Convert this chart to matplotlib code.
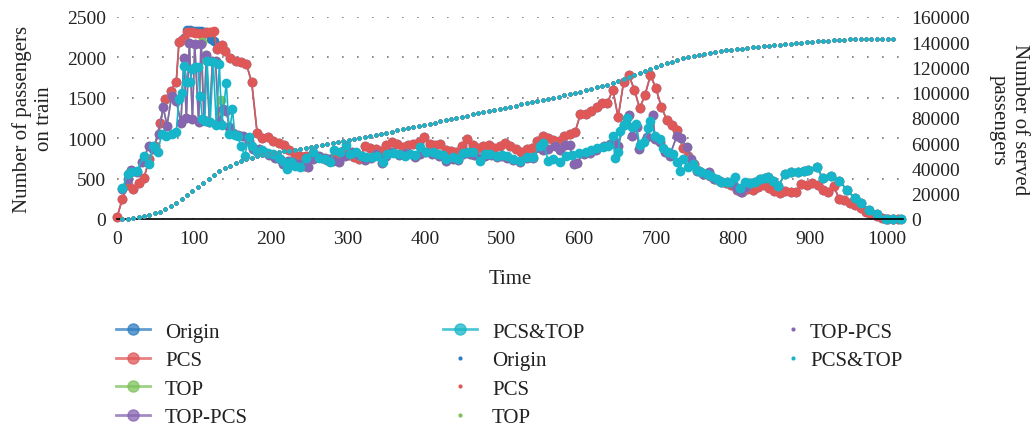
import numpy as np
import matplotlib.pyplot as plt
from matplotlib.lines import Line2D

plt.rcParams['font.family'] = ['Liberation Serif', 'DejaVu Serif']

# passengers on train, (time, count) pairs
pcs = [(0, 20), (7, 250), (14, 420), (21, 370), (28, 450), (35, 510), (42, 740), (49, 900), (56, 1190),
       (63, 1480), (70, 1590), (77, 1700), (80.5, 2190), (84, 2210), (87.5, 2230), (91, 2320), (94.5, 2315),
       (98, 2310), (101.5, 2305), (105, 2300), (108.5, 2295), (112, 2290), (115.5, 2310), (119, 2320),
       (122.5, 2320), (126, 2325), (129.5, 2110), (133, 2130), (136.5, 2150), (140, 2085), (147, 1990),
       (154, 1960), (161, 1940), (168, 1920), (175, 1690), (182, 1070), (189, 1000), (196, 1010), (203, 970),
       (210, 945), (217, 910), (224, 850), (231, 790), (238, 785), (245, 780), (252, 760), (259, 780),
       (266, 750), (273, 730), (280, 760), (287, 820), (294, 846), (301, 790), (308, 770), (315, 745),
       (322, 900), (329, 880), (336, 865), (343, 840), (350, 910), (357, 950), (364, 930), (371, 890),
       (378, 920), (385, 930), (392, 950), (399, 1010), (406, 930), (413, 910), (420, 925), (427, 860),
       (434, 840), (441, 835), (448, 900), (455, 990), (462, 920), (469, 875), (476, 905), (483, 910),
       (490, 880), (497, 900), (504, 935), (511, 905), (518, 865), (525, 825), (532, 870), (539, 875),
       (546, 960), (553, 1030), (560, 1000), (567, 975), (574, 970), (581, 1030), (588, 1050), (595, 1075),
       (602, 1300), (609, 1305), (616, 1340), (623, 1390), (630, 1436), (637, 1436), (644, 1600), (651, 1260),
       (658, 1690), (665, 1780), (672, 1600), (679, 1370), (686, 1540), (693, 1780), (700, 1620), (707, 1390),
       (714, 1230), (721, 1164), (728, 1100), (735, 880), (742, 780), (749, 680), (756, 600), (763, 560),
       (770, 528), (777, 495), (784, 462), (791, 445), (798, 425), (805, 363), (812, 340), (819, 370),
       (826, 365), (833, 400), (840, 415), (847, 380), (854, 345), (861, 325), (868, 345), (875, 340),
       (882, 330), (889, 430), (896, 421), (903, 450), (910, 420), (917, 363), (924, 338), (931, 410),
       (938, 250), (945, 230), (952, 198), (959, 173), (966, 130), (973, 85), (980, 62), (987, 41),
       (994, 10), (1001, 0), (1008, 0), (1015, 0)]

origin = [(0, 20), (7, 250), (14, 420), (21, 370), (28, 450), (35, 510), (42, 740), (49, 900), (56, 1190),
          (63, 1480), (70, 1590), (77, 1700), (80.5, 2190), (84, 2210), (87.5, 2240), (91, 2335), (94.5, 2335),
          (98, 2330), (101.5, 2330), (105, 2330), (108.5, 2325), (112, 2320), (115.5, 2320), (119, 2300),
          (122.5, 2230), (126, 2200), (129.5, 2110), (133, 2130), (136.5, 2150), (140, 2085), (147, 1990),
          (154, 1960), (161, 1940), (168, 1920), (175, 1690), (182, 1070), (189, 1000), (196, 1010), (203, 970),
          (210, 945), (217, 910), (224, 850), (231, 790), (238, 785), (245, 780), (252, 760), (259, 780),
          (266, 750), (273, 730), (280, 760), (287, 820), (294, 846), (301, 790), (308, 770), (315, 745),
          (322, 900), (329, 880), (336, 865), (343, 840), (350, 910), (357, 950), (364, 930), (371, 890),
          (378, 920), (385, 930), (392, 950), (399, 1010), (406, 930), (413, 910), (420, 925), (427, 860),
          (434, 840), (441, 835), (448, 900), (455, 990), (462, 920), (469, 875), (476, 905), (483, 910),
          (490, 880), (497, 900), (504, 935), (511, 905), (518, 865), (525, 825), (532, 870), (539, 875),
          (546, 960), (553, 1030), (560, 1000), (567, 975), (574, 970), (581, 1030), (588, 1050), (595, 1075),
          (602, 1300), (609, 1305), (616, 1340), (623, 1390), (630, 1436), (637, 1436), (644, 1600), (651, 1260),
          (658, 1690), (665, 1780), (672, 1600), (679, 1370), (686, 1540), (693, 1780), (700, 1620), (707, 1390),
          (714, 1230), (721, 1164), (728, 1100), (735, 880), (742, 780), (749, 680), (756, 600), (763, 560),
          (770, 528), (777, 495), (784, 462), (791, 445), (798, 425), (805, 363), (812, 340), (819, 370),
          (826, 365), (833, 400), (840, 415), (847, 380), (854, 345), (861, 325), (868, 345), (875, 340),
          (882, 330), (889, 430), (896, 421), (903, 450), (910, 420), (917, 363), (924, 338), (931, 410),
          (938, 250), (945, 230), (952, 198), (959, 173), (966, 130), (973, 85), (980, 62), (987, 41),
          (994, 10), (1001, 0), (1008, 0), (1015, 0)]

top_pcs = [(7, 371), (14, 500), (18, 611), (26, 578), (33, 702), (41, 900), (47, 867), (54, 1052), (60, 1383),
           (65, 1156), (71, 1527), (77, 1465), (83, 1189), (87, 1989), (90, 1246), (94, 2179), (98, 1238),
           (101, 2167), (106, 1197), (109, 2167), (113, 1230), (116, 2031), (120, 1200), (124, 1960), (128, 1960),
           (132, 1200), (138, 1362), (142, 1341), (146, 1135), (151, 1060), (157, 1040), (164, 1032), (171, 970),
           (177, 870), (184, 870), (191, 830), (198, 790), (205, 760), (212, 740), (216, 681), (222, 720),
           (229, 702), (236, 680), (243, 660), (248, 640), (255, 743), (263, 784), (270, 760), (276, 740),
           (281, 722), (289, 710), (296, 784), (305, 825), (313, 790), (322, 735), (330, 760), (337, 805),
           (344, 693), (350, 780), (357, 825), (366, 790), (376, 817), (387, 763), (393, 800), (400, 834),
           (409, 805), (418, 780), (428, 722), (436, 740), (443, 730), (450, 805), (458, 800), (464, 790),
           (471, 751), (478, 780), (486, 790), (493, 770), (500, 780), (507, 760), (514, 730), (523, 710),
           (532, 750), (541, 760), (549, 880), (553, 850), (560, 867), (569, 908), (575, 860), (582, 916),
           (588, 916), (593, 681), (597, 693), (606, 805), (614, 820), (622, 850), (632, 908), (640, 930),
           (645, 960), (651, 900), (658, 1164), (665, 1287), (669, 1032), (675, 1135), (678, 867), (688, 1011),
           (696, 1287), (699, 990), (705, 949), (712, 830), (718, 784), (727, 1023), (733, 999), (740, 887),
           (746, 743), (753, 598), (761, 557), (769, 586), (775, 495), (783, 475), (792, 454), (800, 433),
           (805, 371), (810, 330), (817, 392), (822, 446), (829, 462), (835, 495), (842, 503), (846, 516),
           (852, 475), (859, 412), (868, 557), (876, 586), (885, 578), (893, 600), (898, 611), (909, 640),
           (917, 503), (928, 536), (938, 475), (948, 363), (958, 256), (967, 198), (977, 116), (987, 62),
           (999, 0), (1008, 0), (1019, 0)]

top = [(7, 371), (14, 500), (18, 611), (26, 578), (33, 702), (41, 900), (47, 867), (54, 1052), (60, 1383),
       (65, 1156), (71, 1527), (77, 1465), (83, 1189), (87, 1989), (90, 1246), (94, 2179), (98, 1238),
       (101, 2167), (106, 1197), (110, 2185), (113, 1230), (116, 2031), (120, 1200), (124, 1960), (128, 1960),
       (132, 1200), (135, 1470), (138, 1362), (142, 1341), (146, 1135), (151, 1060), (157, 1040), (164, 1032),
       (171, 970), (177, 870), (184, 870), (191, 830), (198, 790), (205, 760), (212, 740), (216, 681),
       (222, 720), (229, 702), (236, 680), (243, 660), (248, 640), (255, 743), (263, 784), (270, 760),
       (276, 740), (281, 722), (289, 710), (296, 784), (305, 825), (313, 790), (322, 735), (330, 760),
       (337, 805), (344, 693), (350, 780), (357, 825), (366, 790), (376, 817), (387, 763), (393, 800),
       (400, 834), (409, 805), (418, 780), (428, 722), (436, 740), (443, 730), (450, 805), (458, 800),
       (464, 790), (471, 751), (478, 780), (486, 790), (493, 770), (500, 780), (507, 760), (514, 730),
       (523, 710), (532, 750), (541, 760), (549, 880), (553, 850), (560, 867), (569, 908), (575, 860),
       (582, 916), (588, 916), (593, 681), (597, 693), (606, 805), (614, 820), (622, 850), (632, 908),
       (640, 930), (645, 960), (651, 900), (658, 1164), (665, 1287), (669, 1032), (675, 1135), (678, 867),
       (688, 1011), (696, 1287), (699, 990), (705, 949), (712, 830), (718, 784), (727, 1023), (733, 999),
       (740, 887), (746, 743), (753, 598), (761, 557), (769, 586), (775, 495), (783, 475), (792, 454),
       (800, 433), (805, 371), (810, 330), (817, 392), (822, 446), (829, 462), (835, 495), (842, 503),
       (846, 516), (852, 475), (859, 412), (868, 557), (876, 586), (885, 578), (893, 600), (898, 611),
       (909, 640), (917, 503), (928, 536), (938, 475), (948, 363), (958, 256), (967, 198), (977, 116),
       (987, 62), (999, 0), (1008, 0), (1019, 0)]

pcs_top = [(7, 380), (14, 560), (18, 578), (26, 598), (35, 784), (42, 681), (47, 908), (53, 825), (58, 1052),
           (64, 1032), (71, 1052), (77, 1081), (80.5, 1486), (84, 1560), (87.5, 1898), (91, 1700), (94.5, 1692),
           (98, 1857), (101.5, 1878), (105, 1878), (108, 1519), (111, 1240), (114, 1217), (117, 1960),
           (121, 1197), (125, 1940), (129, 1164), (133, 1919), (136, 1164), (142, 1684), (146, 1052),
           (150, 1362), (153, 1040), (157, 1030), (161, 908), (166, 784), (171, 1020), (175, 900), (182, 830),
           (189, 850), (196, 820), (203, 800), (210, 760), (217, 700), (221, 620), (226, 700), (231, 650),
           (238, 640), (246, 751), (255, 825), (263, 751), (270, 743), (277, 702), (282, 858), (290, 834),
           (297, 916), (303, 805), (311, 825), (318, 776), (324, 763), (331, 763), (338, 784), (345, 710),
           (351, 805), (359, 817), (366, 805), (374, 784), (381, 805), (387, 792), (394, 887), (402, 825),
           (410, 825), (417, 805), (423, 790), (428, 743), (436, 763), (443, 743), (450, 817), (456, 834),
           (463, 825), (471, 722), (478, 805), (485, 805), (493, 784), (500, 790), (507, 780), (514, 743),
           (523, 722), (532, 763), (541, 763), (549, 908), (554, 941), (560, 722), (567, 740), (575, 710),
           (583, 784), (591, 790), (600, 817), (609, 834), (616, 850), (623, 875), (631, 890), (638, 908),
           (644, 1023), (647, 751), (651, 825), (654, 1094), (659, 1164), (663, 1246), (669, 1135), (674, 1180),
           (679, 916), (684, 949), (690, 1122), (693, 1217), (699, 1032), (705, 990), (709, 875), (716, 825),
           (722, 805), (727, 702), (731, 598), (735, 743), (742, 640), (748, 681), (754, 611), (759, 586),
           (766, 557), (772, 536), (779, 495), (785, 462), (792, 462), (796, 454), (803, 516), (809, 380),
           (816, 462), (822, 446), (829, 462), (835, 495), (842, 503), (846, 516), (852, 475), (859, 412),
           (868, 557), (876, 586), (885, 578), (893, 600), (898, 611), (909, 640), (917, 503), (928, 536),
           (938, 475), (948, 363), (958, 256), (967, 198), (977, 116), (987, 62), (999, 0), (1008, 0), (1019, 0)]

# cumulative served passengers (thousands), sampled every 7 time units from t=7
served_t = np.arange(7, 1009, 7)
served_k = [0, 0.3, 0.8, 1.6, 2.4, 3.3, 4.4, 5.8, 7.6, 10.0, 12.7, 15.6, 18.8, 21.9, 25.0, 28.3, 31.7, 35.0,
            37.8, 40.2, 42.3, 44.0, 45.6, 47.2, 48.6, 49.8, 50.8, 51.7, 52.5, 53.1, 53.7, 54.2, 54.9, 55.8,
            56.6, 57.3, 58.0, 58.8, 59.5, 60.2, 61.0, 61.8, 62.7, 63.5, 64.3, 65.2, 66.0, 66.8, 67.6, 68.4,
            69.2, 70.1, 70.9, 71.8, 72.7, 73.6, 74.5, 75.5, 76.4, 77.3, 78.2, 79.1, 80.0, 81.0, 81.9, 82.8,
            83.7, 84.6, 85.5, 86.3, 87.1, 88.0, 88.9, 89.8, 90.7, 91.6, 92.5, 93.4, 94.3, 95.1, 96.0, 96.9,
            97.9, 98.9, 99.9, 100.9, 102.0, 103.1, 104.2, 105.3, 106.5, 107.8, 109.2, 110.6, 112.2, 113.8,
            115.5, 117.2, 118.8, 120.5, 122.0, 123.4, 124.7, 126.0, 127.2, 128.3, 129.2, 130.1, 130.9, 131.6,
            132.3, 132.9, 133.5, 134.0, 134.5, 135.0, 135.4, 135.9, 136.3, 136.7, 137.1, 137.5, 137.9, 138.3,
            138.7, 139.1, 139.5, 139.9, 140.3, 140.7, 141.0, 141.3, 141.6, 141.9, 142.1, 142.3, 142.4, 142.5,
            142.6, 142.6, 142.7, 142.7, 142.7, 142.7]
served = np.array(served_k) * 1000

names = ['Origin', 'PCS', 'TOP', 'TOP-PCS', 'PCS&TOP']
colors = ['#2f7dc0', '#e05757', '#7cc25a', '#8765b1', '#17b5c9']
series = [origin, pcs, top, top_pcs, pcs_top]

fig = plt.figure(figsize=(10.34, 4.31), dpi=100)
ax = fig.add_axes([117 / 1034, 1 - 220 / 431, 786 / 1034, 202 / 431])
ax2 = ax.twinx()

for data, c in zip(series, colors):
    t, v = zip(*data)
    ax.plot(t, v, color=c, lw=1.2, marker='o', ms=6, mec=c, clip_on=False)

for c in colors:
    ax2.plot(served_t, served, ls='none', marker='o', ms=3.1, color=c, mec='none', clip_on=False)

ax.set_xlim(0, 1021)
ax.set_ylim(0, 2500)
ax2.set_ylim(0, 160000)
ax.set_xticks(range(0, 1001, 100))
ax.set_yticks(range(0, 2501, 500))
ax2.set_yticks(range(0, 160001, 20000))

ax.yaxis.grid(True, ls=(0, (1, 8)), color='#777777', lw=1.2)
ax.set_axisbelow(True)
for a in (ax, ax2):
    for s in ('top', 'left', 'right', 'bottom'):
        a.spines[s].set_visible(False)
ax.spines['bottom'].set_visible(True)
ax.spines['bottom'].set_color('black')
ax.spines['bottom'].set_linewidth(1.2)

ax.tick_params(axis='both', length=0, labelsize=14, colors='#222222')
ax.tick_params(axis='x', pad=8)
ax.tick_params(axis='y', pad=8)
ax2.tick_params(axis='y', length=0, labelsize=14, colors='#222222', pad=6)

fig.text(33 / 1034, 1 - 119 / 431, 'Number of passengers\non train', rotation=90, ha='center', va='center',
         multialignment='center', fontsize=15, color='#222222', linespacing=1.15)
fig.text(1009 / 1034, 1 - 120 / 431, 'Number of served\npassengers', rotation=270, ha='center', va='center',
         multialignment='center', fontsize=15, color='#222222', linespacing=1.15)
fig.text(510 / 1034, 1 - 280 / 431, 'Time', ha='center', va='center', fontsize=15, color='#222222')

# legend, three separate columns
line_h = [Line2D([], [], color=c, lw=2, alpha=0.75, marker='o', ms=8, mfc=c, mec=c) for c in colors]
dot_h = [Line2D([], [], ls='none', marker='o', ms=3, color=c, mec='none') for c in colors]
kw = dict(loc='upper left', frameon=False, fontsize=15, borderpad=0, borderaxespad=0,
          labelspacing=0.43, labelcolor='#222222')
fig.legend(line_h[:4], names[:4], bbox_to_anchor=(116 / 1034, 1 - 323 / 431),
           handlelength=1.65, handletextpad=0.7, **kw)
fig.legend([line_h[4]] + dot_h[:3], [names[4]] + names[:3], bbox_to_anchor=(443 / 1034, 1 - 323 / 431),
           handlelength=1.65, handletextpad=0.7, **kw)
fig.legend(dot_h[3:], names[3:], bbox_to_anchor=(785 / 1034, 1 - 323 / 431),
           handlelength=0.8, handletextpad=0.4, **kw)

fig.savefig('out.png', dpi=100)
